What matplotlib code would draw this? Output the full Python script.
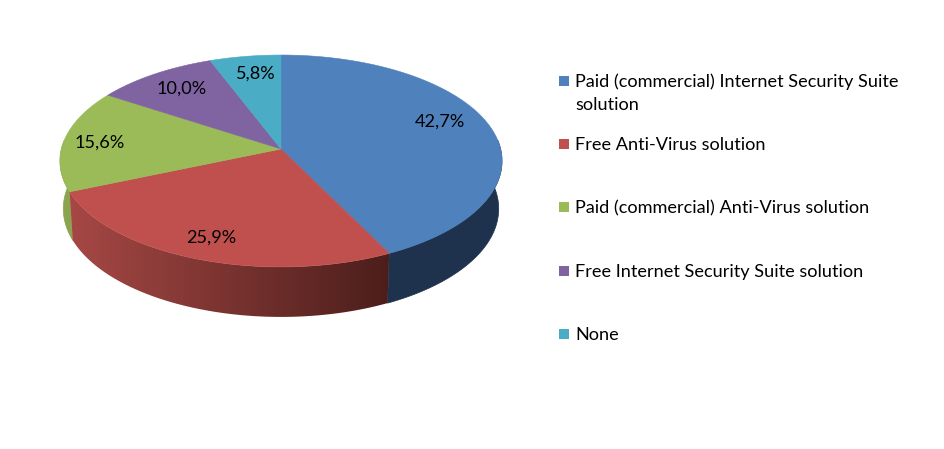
"""
Tilted 3D-style pie of security software use, with a hand-placed legend.
"""

import numpy as np
import matplotlib.pyplot as plt
from matplotlib.patches import Polygon

plt.rcParams["font.family"] = ["Lato", "DejaVu Sans"]

categories = [
    "Paid (commercial) Internet Security Suite\nsolution",
    "Free Anti-Virus solution",
    "Paid (commercial) Anti-Virus solution",
    "Free Internet Security Suite solution",
    "None",
]
values = [42.7, 25.9, 15.6, 10.0, 5.8]

colors = ["#4F81BD", "#C0504D", "#9BBB59", "#8064A2", "#4BACC6"]

# pie geometry in pixels
CX, CY = 281, 149
RX, RY = 219.6, 104.6
PERSP = 0.113
BOTTOM_SCALE = 0.985

label_xy = [(440, 122), (211, 238), (100, 143), (182, 89), (255, 74)]
legend_y = [81, 144, 207, 271, 334]
FONT = 13.1


def rim(theta):
    """Project angles (clockwise from top) onto the tilted pie rim."""
    u, v = np.sin(theta), np.cos(theta)
    w = 1 + PERSP * v
    return CX + RX * u / w, CY - RY * v / w


def wall(start, end):
    t = np.linspace(start, end, 200)
    x, y = rim(t)
    xb = CX + (x - CX) * BOTTOM_SCALE
    yb = y + 47.5 - 2.5 * np.cos(t)
    return np.c_[np.r_[x, xb[::-1]], np.r_[y, yb[::-1]]]


def main():
    fig = plt.figure(figsize=(9.44, 4.49), dpi=100)
    ax = fig.add_axes([0, 0, 1, 1])

    edges = np.radians(np.cumsum([0] + values) * 3.6)

    # walls first, only the part facing the viewer
    ax.add_patch(
        Polygon(wall(np.radians(85), edges[1]), color="#1F324D", lw=0.5)
    )
    ax.add_patch(
        Polygon(wall(edges[2], np.radians(275)), color="#8AA54E", lw=0.5)
    )

    # red wall fades from left to right
    left = np.array([0xA6, 0x48, 0x45]) / 255
    right = np.array([0x4C, 0x1E, 0x1B]) / 255
    fade = np.linspace(0, 1, 320)[None, :, None]
    img = ax.imshow(
        left + (right - left) * fade,
        extent=(69, 389, 330, 180),
        aspect="auto",
        zorder=1,
    )
    red_wall = Polygon(
        wall(edges[1], edges[2]), transform=ax.transData, fc="none", ec="none"
    )
    ax.add_patch(red_wall)
    img.set_clip_path(red_wall)

    # top faces
    for i in range(len(values)):
        t = np.linspace(edges[i], edges[i + 1], 200)
        x, y = rim(t)
        ax.fill(
            np.r_[CX, x],
            np.r_[CY, y],
            color=colors[i],
            lw=0.4,
            zorder=2,
        )

    for v, (x, y) in zip(values, label_xy):
        ax.text(
            x,
            y,
            f"{v:.1f}%".replace(".", ","),
            fontsize=FONT,
            color="black",
            ha="center",
            va="center",
            zorder=3,
        )

    # legend
    for name, c, y in zip(categories, colors, legend_y):
        ax.scatter([564], [y], marker="s", s=44, color=c, linewidths=0)
        lines = name.split("\n")
        for k, line in enumerate(lines):
            ax.text(
                575,
                y + 1 + 23 * k,
                line,
                fontsize=FONT,
                color="black",
                ha="left",
                va="center",
            )

    ax.set_xlim(0, 944)
    ax.set_ylim(449, 0)
    ax.axis("off")
    fig.savefig("out.png", dpi=100)


if __name__ == "__main__":
    main()
